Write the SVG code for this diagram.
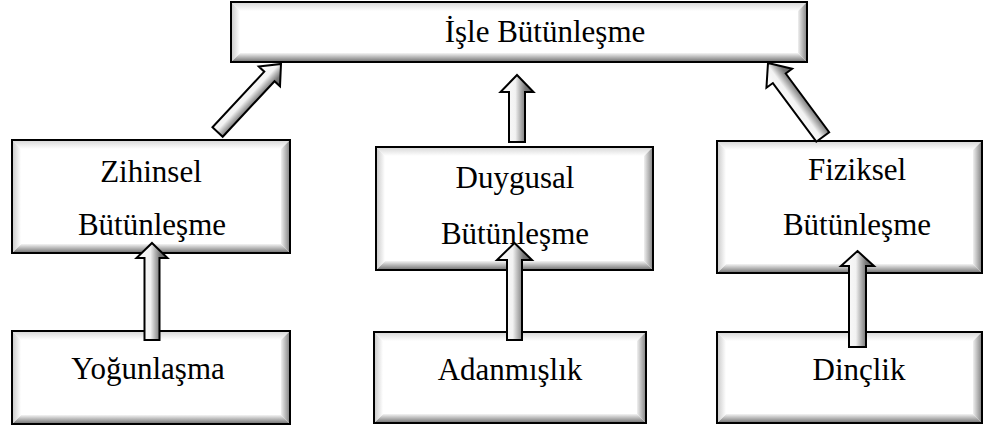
<svg xmlns="http://www.w3.org/2000/svg" width="990" height="430" viewBox="0 0 990 430">
  <style>
    .frame { fill: none; stroke: #000; stroke-width: 2; }
    .face { fill: #fff; }
    .bt { fill: url(#bevTop); }
    .bb { fill: url(#bevBottom); }
    .bl { fill: url(#bevLeft); }
    .br { fill: url(#bevRight); }
    .label { font-family: "Liberation Serif", "Times New Roman", serif; font-size: 31px; fill: #000; text-anchor: middle; }
    .arrow { fill: url(#arrowFill); stroke: #000; stroke-width: 2; stroke-linejoin: miter; }
  </style>
  <defs>
    <linearGradient id="bevTop" x1="0" y1="0" x2="0" y2="1">
      <stop offset="0" stop-color="#d6d6d6"/>
      <stop offset="1" stop-color="#ffffff"/>
    </linearGradient>
    <linearGradient id="bevBottom" x1="0" y1="0" x2="0" y2="1">
      <stop offset="0" stop-color="#f4f4f4"/>
      <stop offset="1" stop-color="#6e6e6e"/>
    </linearGradient>
    <linearGradient id="bevLeft" x1="0" y1="0" x2="1" y2="0">
      <stop offset="0" stop-color="#c8c8c8"/>
      <stop offset="1" stop-color="#ffffff"/>
    </linearGradient>
    <linearGradient id="bevRight" x1="0" y1="0" x2="1" y2="0">
      <stop offset="0" stop-color="#f0f0f0"/>
      <stop offset="1" stop-color="#808080"/>
    </linearGradient>
    <linearGradient id="arrowFill" x1="0" y1="0" x2="1" y2="0">
      <stop offset="0" stop-color="#ffffff"/>
      <stop offset="0.45" stop-color="#f2f2f2"/>
      <stop offset="0.6" stop-color="#b4b4b4"/>
      <stop offset="0.75" stop-color="#7a7a7a"/>
      <stop offset="1" stop-color="#5a5a5a"/>
    </linearGradient>
  </defs>

  <rect x="0" y="0" width="990" height="430" fill="#fff"/>

  <!-- top: İşle Bütünleşme -->
  <g id="isle-butunlesme">
    <rect class="face" x="231" y="2" width="576" height="60"/>
    <polygon class="bt" points="231,2 807,2 798,11 240,11"/>
    <polygon class="bb" points="231,62 807,62 798,53 240,53"/>
    <polygon class="bl" points="231,2 240,11 240,53 231,62"/>
    <polygon class="br" points="807,2 807,62 798,53 798,11"/>
    <rect class="frame" x="231" y="2" width="576" height="60"/>
    <text class="label" x="545" y="42">İşle Bütünleşme</text>
  </g>

  <!-- middle row -->
  <g id="zihinsel">
    <rect class="face" x="12" y="140" width="278" height="113"/>
    <polygon class="bt" points="12,140 290,140 281,149 21,149"/>
    <polygon class="bb" points="12,253 290,253 281,244 21,244"/>
    <polygon class="bl" points="12,140 21,149 21,244 12,253"/>
    <polygon class="br" points="290,140 290,253 281,244 281,149"/>
    <rect class="frame" x="12" y="140" width="278" height="113"/>
    <text class="label" x="151" y="182">Zihinsel</text>
    <text class="label" x="152" y="235">Bütünleşme</text>
  </g>

  <g id="duygusal">
    <rect class="face" x="376" y="147" width="277" height="123"/>
    <polygon class="bt" points="376,147 653,147 644,156 385,156"/>
    <polygon class="bb" points="376,270 653,270 644,261 385,261"/>
    <polygon class="bl" points="376,147 385,156 385,261 376,270"/>
    <polygon class="br" points="653,147 653,270 644,261 644,156"/>
    <rect class="frame" x="376" y="147" width="277" height="123"/>
    <text class="label" x="515" y="188">Duygusal</text>
    <text class="label" x="515" y="244">Bütünleşme</text>
  </g>

  <g id="fiziksel">
    <rect class="face" x="717" y="141" width="265" height="132"/>
    <polygon class="bt" points="717,141 982,141 973,150 726,150"/>
    <polygon class="bb" points="717,273 982,273 973,264 726,264"/>
    <polygon class="bl" points="717,141 726,150 726,264 717,273"/>
    <polygon class="br" points="982,141 982,273 973,264 973,150"/>
    <rect class="frame" x="717" y="141" width="265" height="132"/>
    <text class="label" x="857" y="180">Fiziksel</text>
    <text class="label" x="857" y="235">Bütünleşme</text>
  </g>

  <!-- bottom row -->
  <g id="yogunlasma">
    <rect class="face" x="12" y="331" width="278" height="93"/>
    <polygon class="bt" points="12,331 290,331 281,340 21,340"/>
    <polygon class="bb" points="12,424 290,424 281,415 21,415"/>
    <polygon class="bl" points="12,331 21,340 21,415 12,424"/>
    <polygon class="br" points="290,331 290,424 281,415 281,340"/>
    <rect class="frame" x="12" y="331" width="278" height="93"/>
    <text class="label" x="148" y="379">Yoğunlaşma</text>
  </g>

  <g id="adanmislik">
    <rect class="face" x="374" y="332" width="272" height="91"/>
    <polygon class="bt" points="374,332 646,332 637,341 383,341"/>
    <polygon class="bb" points="374,423 646,423 637,414 383,414"/>
    <polygon class="bl" points="374,332 383,341 383,414 374,423"/>
    <polygon class="br" points="646,332 646,423 637,414 637,341"/>
    <rect class="frame" x="374" y="332" width="272" height="91"/>
    <text class="label" x="510" y="380">Adanmışlık</text>
  </g>

  <g id="dinclik">
    <rect class="face" x="717" y="332" width="265" height="91"/>
    <polygon class="bt" points="717,332 982,332 973,341 726,341"/>
    <polygon class="bb" points="717,423 982,423 973,414 726,414"/>
    <polygon class="bl" points="717,332 726,341 726,414 717,423"/>
    <polygon class="br" points="982,332 982,423 973,414 973,341"/>
    <rect class="frame" x="717" y="332" width="265" height="91"/>
    <text class="label" x="859" y="380">Dinçlik</text>
  </g>

  <!-- block arrows, each drawn tip-at-origin pointing up -->
  <g id="connectors">
    <path class="arrow" transform="translate(281,64) rotate(43)" d="M0,0 L14.5,17 L7,17 L7,93 L-7,93 L-7,17 L-14.5,17 Z"/>
    <path class="arrow" transform="translate(517,75)" d="M0,0 L16.5,17 L8,17 L8,67 L-8,67 L-8,17 L-16.5,17 Z"/>
    <path class="arrow" transform="translate(768,63) rotate(-36.5)" d="M0,0 L16,19 L8,19 L8,92 L-8,92 L-8,19 L-16,19 Z"/>
    <path class="arrow" transform="translate(152,243)" d="M0,0 L15.5,15 L7.5,15 L7.5,97 L-7.5,97 L-7.5,15 L-15.5,15 Z"/>
    <path class="arrow" transform="translate(514.5,243)" d="M0,0 L17.5,17 L7.5,17 L7.5,97 L-7.5,97 L-7.5,17 L-17.5,17 Z"/>
    <path class="arrow" transform="translate(857.5,251)" d="M0,0 L16.5,15 L8.5,15 L8.5,96 L-8.5,96 L-8.5,15 L-16.5,15 Z"/>
  </g>
</svg>
